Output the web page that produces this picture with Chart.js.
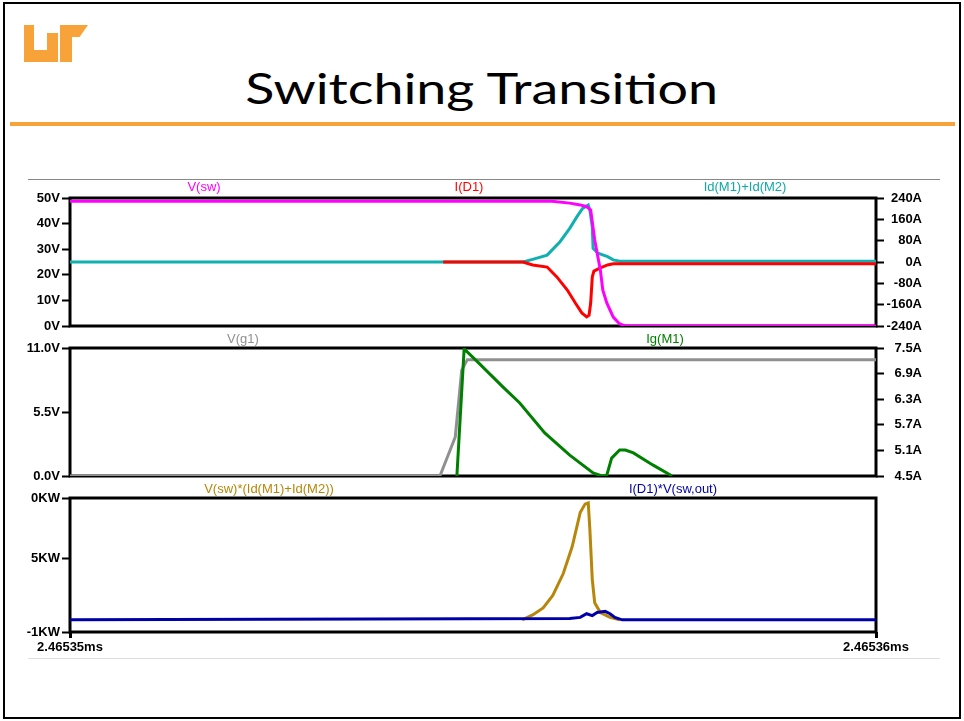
<!DOCTYPE html>
<html>
<head>
<meta charset="utf-8">
<title>Switching Transition</title>
<script src="https://cdn.jsdelivr.net/npm/chart.js@4/dist/chart.umd.min.js"></script>
<style>
  html, body { margin: 0; padding: 0; background: #fff; }
  body { width: 964px; height: 721px; position: relative; overflow: hidden; font-family: "Liberation Sans", Arial, sans-serif; }
  .frame { position: absolute; left: 3px; top: 2px; width: 958px; height: 717px; border: 2px solid #000; box-sizing: border-box; }
  .logo div { position: absolute; background: #f7a33a; }
  .title { position: absolute; left: 0; width: 964px; top: 63px; text-align: center; font-family: Lato, "Open Sans", sans-serif; font-size: 42px; color: #000; }
  .title span { display: inline-block; transform-origin: 50% 50%; }
  .rule { position: absolute; left: 10px; top: 122px; width: 945px; height: 4px; background: #f7a33a; }
  .hline { position: absolute; left: 28px; width: 912px; height: 1px; }
  canvas { position: absolute; left: 0; }
  .lbl { position: absolute; font-size: 13px; transform: translateX(-50%); white-space: nowrap; line-height: 13px; }
</style>
</head>
<body>
<div class="frame"></div>
<div class="logo">
  <div style="left:24px;top:25px;width:10px;height:37px;"></div>
  <div style="left:24px;top:50px;width:34px;height:12px;border-bottom-left-radius:7px;"></div>
  <div style="left:47px;top:33px;width:11px;height:29px;"></div>
  <div style="left:60px;top:25px;width:28px;height:12px;clip-path:polygon(0 0,100% 0,70% 100%,0 100%);"></div>
  <div style="left:60px;top:25px;width:12px;height:37px;"></div>
</div>
<div class="title"><span id="titleText">Switching Transition</span></div>
<div class="rule"></div>
<div class="hline" style="top:179px;background:#888;"></div>
<div class="hline" style="top:658px;background:#ddd;"></div>

<canvas id="chartTop" width="964" height="144" style="top:190px"></canvas>
<canvas id="chartMid" width="964" height="144" style="top:340px"></canvas>
<canvas id="chartBot" width="964" height="166" style="top:490px"></canvas>

<div class="lbl" style="left:204px;top:180px;color:#ff00ff">V(sw)</div>
<div class="lbl" style="left:469px;top:180px;color:#ff0000">I(D1)</div>
<div class="lbl" style="left:745px;top:180px;color:#10a8a8">Id(M1)+Id(M2)</div>
<div class="lbl" style="left:243px;top:332px;color:#909090">V(g1)</div>
<div class="lbl" style="left:665px;top:332px;color:#008000">Ig(M1)</div>
<div class="lbl" style="left:269px;top:482px;color:#b8860b">V(sw)*(Id(M1)+Id(M2))</div>
<div class="lbl" style="left:673px;top:482px;color:#0000a8">I(D1)*V(sw,out)</div>

<script>
// time axis: ns after 2.46535ms (span 10ns)
var xTicks = [0, 10];
var xTickLabels = ['2.46535ms', '2.46536ms'];

// panel 1
var vswT = [0, 5.98, 6.20, 6.33, 6.41, 6.46, 6.51, 6.58, 6.61, 6.66, 6.74, 6.82, 6.89, 10];
var vswV = [48.7, 48.7, 48.0, 47.3, 46.6, 45.3, 33.6, 21.9, 14.1, 9.0, 3.5, 0.8, 0, 0];
var id1T = [4.63, 5.62, 5.74, 5.92, 6.04, 6.17, 6.27, 6.35, 6.41, 6.44, 6.46, 6.48, 6.50, 6.58, 6.67, 6.74, 10];
var id1A = [0, 0, -11, -19, -56, -105, -154, -191, -206, -199, -154, -56, -34, -22, -11, -7, -7];
var idmT = [0, 5.62, 5.74, 5.92, 6.08, 6.20, 6.29, 6.36, 6.43, 6.45, 6.48, 6.49, 6.55, 6.67, 6.74, 6.82, 10];
var idmA = [0, 0, 10, 26, 76, 126, 170, 201, 214, 195, 132, 51, 33, 20, 8, 3, 3];
var p1LeftTicks = [0, 10, 20, 30, 40, 50];
var p1LeftLabels = ['0V', '10V', '20V', '30V', '40V', '50V'];
var p1RightTicks = [-240, -160, -80, 0, 80, 160, 240];
var p1RightLabels = ['-240A', '-160A', '-80A', '0A', '80A', '160A', '240A'];

// panel 2
var vgT = [0, 4.59, 4.78, 4.86, 4.93, 10];
var vgV = [0, 0, 3.35, 9.1, 10.0, 10.0];
var igT = [4.80, 4.89, 5.06, 5.37, 5.58, 5.89, 6.20, 6.49, 6.60, 6.66, 6.72, 6.82, 6.89, 6.99, 7.23, 7.47];
var igA = [4.5, 7.48, 7.17, 6.59, 6.21, 5.51, 4.99, 4.57, 4.5, 4.52, 4.92, 5.11, 5.11, 5.04, 4.76, 4.5];
var p2LeftTicks = [0, 5.5, 11];
var p2LeftLabels = ['0.0V', '5.5V', '11.0V'];
var p2RightTicks = [4.5, 5.1, 5.7, 6.3, 6.9, 7.5];
var p2RightLabels = ['4.5A', '5.1A', '5.7A', '6.3A', '6.9A', '7.5A'];

// panel 3
var pswT = [5.61, 5.74, 5.87, 5.99, 6.12, 6.23, 6.33, 6.39, 6.43, 6.45, 6.48, 6.51, 6.58, 6.70, 6.82];
var pswKW = [0, 0.4, 0.97, 2.0, 3.8, 6.0, 8.8, 9.5, 9.6, 7.4, 3.3, 1.4, 0.6, 0.2, 0];
var pdT = [0, 6.20, 6.33, 6.41, 6.48, 6.54, 6.64, 6.70, 6.76, 6.85, 10];
var pdKW = [0, 0.1, 0.2, 0.5, 0.35, 0.6, 0.7, 0.5, 0.2, 0, 0];
var p3LeftTicks = [-1, 5, 10];
var p3LeftLabels = ['-1KW', '5KW', '0KW'];

var tickFont = { family: 'Liberation Sans', size: 13, weight: 'bold' };

// stretch the title to the slide's width
(function() {
    var t = document.getElementById('titleText');
    t.style.transform = 'scaleX(' + (473 / t.getBoundingClientRect().width) + ')';
})();

function pts(t, v) {
    return t.map(function(x, i) { return { x: x, y: v[i] }; });
}

function line(label, t, v, color, axis) {
    return {
        label: label,
        data: pts(t, v),
        borderColor: color,
        borderWidth: 3,
        pointRadius: 0,
        tension: 0,
        fill: false,
        yAxisID: axis
    };
}

function yAxis(side, min, max, ticks, labels) {
    return {
        type: 'linear',
        position: side,
        min: min,
        max: max,
        afterFit: function(scale) {
            scale.width = side === 'left' ? 70 : 46;
            scale.paddingTop = 0;
            scale.paddingBottom = 0;
        },
        afterBuildTicks: function(scale) {
            scale.ticks = ticks.map(function(v) { return { value: v }; });
        },
        border: { display: false },
        grid: { drawOnChartArea: false, drawTicks: true, tickLength: 8, tickWidth: 2, tickColor: '#000', color: '#000' },
        ticks: {
            autoSkip: false,
            padding: 2,
            color: '#000',
            font: tickFont,
            crossAlign: side === 'left' ? 'near' : 'far',
            callback: function(value, index) { return labels[index]; }
        }
    };
}

function xAxis(show) {
    var axis = { type: 'linear', min: 0, max: 10, display: show };
    if (show) {
        axis.afterFit = function(scale) {
            scale.height = 24;
            scale.paddingLeft = 0;
            scale.paddingRight = 0;
        };
        axis.afterBuildTicks = function(scale) {
            scale.ticks = xTicks.map(function(v) { return { value: v }; });
        };
        axis.border = { display: false };
        axis.grid = { drawOnChartArea: false, drawTicks: true, tickLength: 6, tickWidth: 3, tickColor: '#000', color: '#000' };
        axis.ticks = {
            autoSkip: false,
            maxRotation: 0,
            padding: 2,
            color: '#000',
            font: tickFont,
            callback: function(value, index) { return xTickLabels[index]; }
        };
    }
    return axis;
}

// black frame round the plot area, under the traces
var boxPlugin = {
    id: 'plotBox',
    beforeDatasetsDraw: function(chart) {
        var a = chart.chartArea, c = chart.ctx;
        c.save();
        c.strokeStyle = '#000';
        c.lineWidth = 3;
        c.strokeRect(a.left, a.top, a.right - a.left, a.bottom - a.top);
        c.restore();
    }
};

function makeChart(id, datasets, scales) {
    return new Chart(document.getElementById(id), {
        type: 'line',
        data: { datasets: datasets },
        options: {
            responsive: false,
            animation: false,
            devicePixelRatio: 1,
            layout: { padding: { top: 8, bottom: id === 'chartBot' ? 0 : 8, left: 0, right: 42 } },
            plugins: { legend: { display: false }, tooltip: { enabled: false } },
            scales: scales
        },
        plugins: [boxPlugin]
    });
}

// first dataset is drawn on top
makeChart('chartTop', [
    line('V(sw)', vswT, vswV, '#ff00ff', 'yL'),
    line('I(D1)', id1T, id1A, '#ff0000', 'yR'),
    line('Id(M1)+Id(M2)', idmT, idmA, '#10b0b0', 'yR')
], {
    x: xAxis(false),
    yL: yAxis('left', 0, 50, p1LeftTicks, p1LeftLabels),
    yR: yAxis('right', -240, 240, p1RightTicks, p1RightLabels)
});

makeChart('chartMid', [
    line('Ig(M1)', igT, igA, '#008000', 'yR'),
    line('V(g1)', vgT, vgV, '#909090', 'yL')
], {
    x: xAxis(false),
    yL: yAxis('left', 0, 11, p2LeftTicks, p2LeftLabels),
    yR: yAxis('right', 4.5, 7.5, p2RightTicks, p2RightLabels)
});

makeChart('chartBot', [
    line('I(D1)*V(sw,out)', pdT, pdKW, '#0000a8', 'yL'),
    line('V(sw)*(Id(M1)+Id(M2))', pswT, pswKW, '#b8860b', 'yL')
], {
    x: xAxis(true),
    yL: yAxis('left', -1, 10, p3LeftTicks, p3LeftLabels),
    yR: {
        position: 'right',
        display: true,
        afterFit: function(scale) { scale.width = 46; },
        grid: { display: false },
        border: { display: false },
        ticks: { display: false }
    }
});
</script>
</body>
</html>
